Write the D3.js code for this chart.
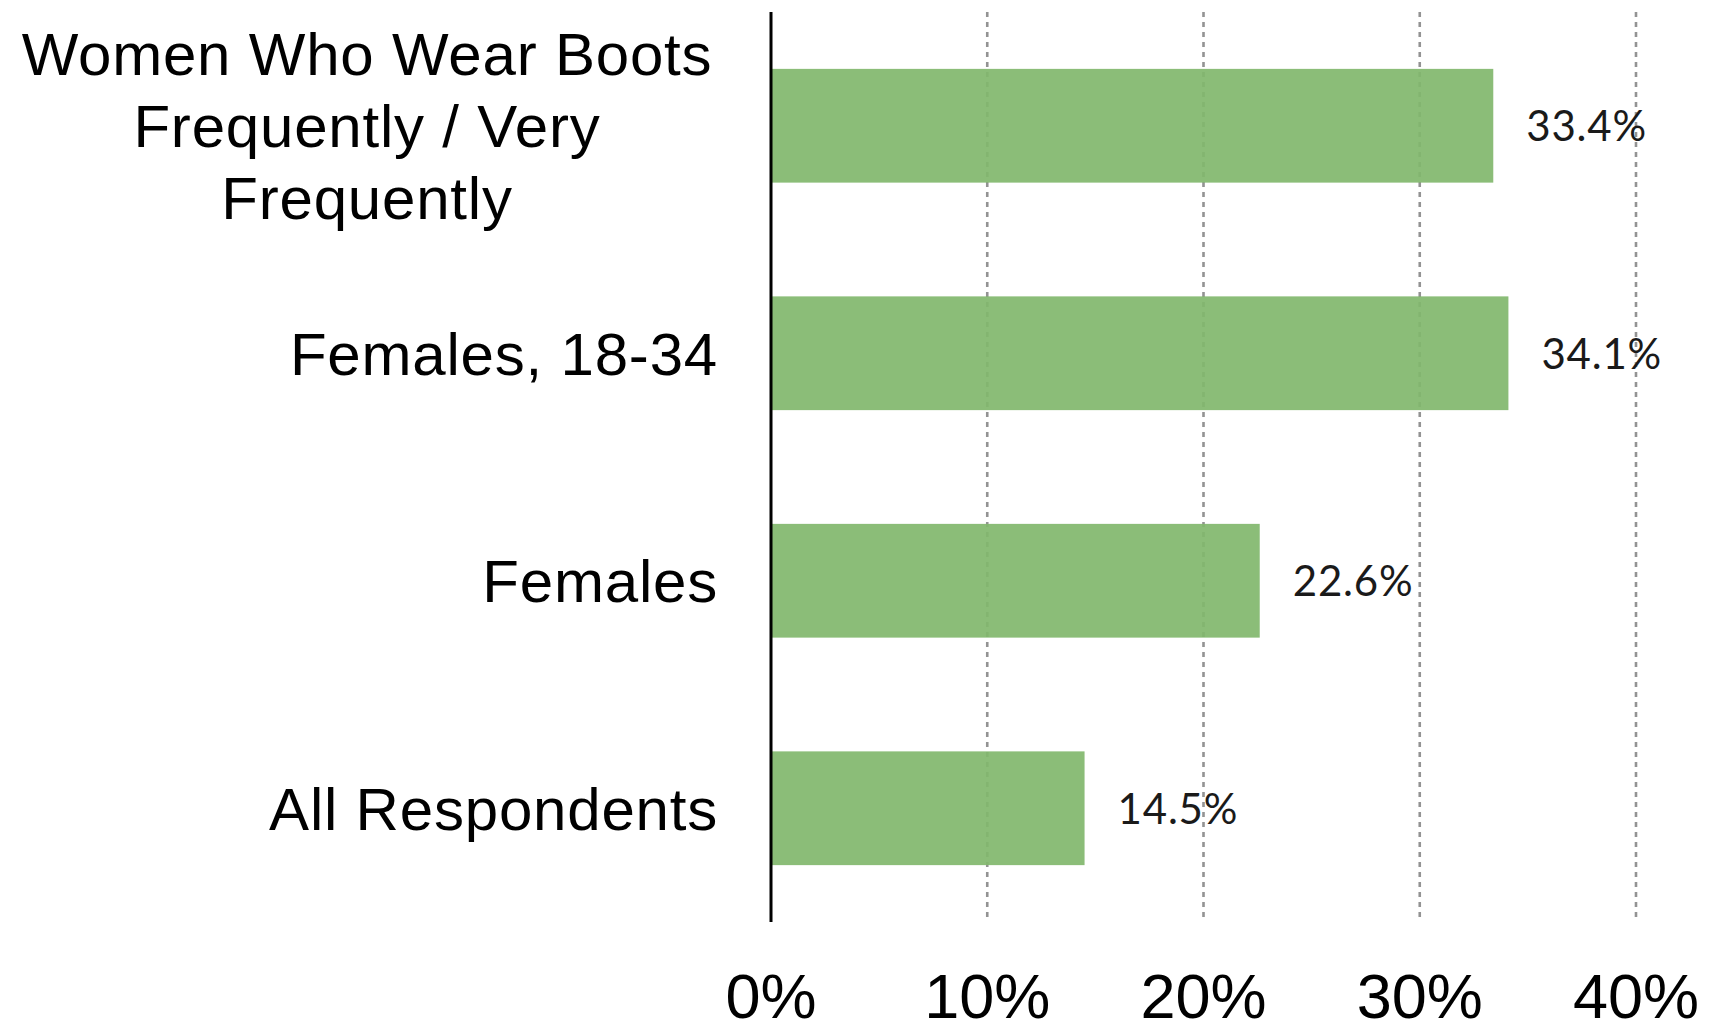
<!DOCTYPE html>
<html>
<head>
<meta charset="utf-8">
<script src="https://cdn.jsdelivr.net/npm/d3@7"></script>
<style>
  html, body { margin: 0; padding: 0; background: #ffffff; }
  svg { display: block; }
</style>
</head>
<body>
<svg id="chart" width="1718" height="1032"></svg>
<script>
// ---- data ----
const categories = [
  ["Women Who Wear Boots", "Frequently / Very", "Frequently"],
  ["Females, 18-34"],
  ["Females"],
  ["All Respondents"]
];
const values = [33.4, 34.1, 22.6, 14.5];
const tickValues = [0, 10, 20, 30, 40];
const tickLabels = ["0%", "10%", "20%", "30%", "40%"];

// ---- layout ----
const svg = d3.select("#chart");
const x0 = 771, x1 = 1636, yTop = 12, yBot = 922;

const x = d3.scaleLinear().domain([0, 40]).range([x0, x1]);
const y = d3.scaleBand().domain(d3.range(categories.length)).range([yTop, yBot])
  .paddingInner(0.5).paddingOuter(0.25);

// gridlines
svg.append("g").selectAll("line").data(tickValues.filter(d => d > 0)).join("line")
  .attr("x1", d => x(d)).attr("x2", d => x(d))
  .attr("y1", yTop).attr("y2", yBot)
  .attr("stroke", "#939393").attr("stroke-width", 2.6)
  .attr("stroke-dasharray", "5,5");

// bars
svg.append("g").selectAll("rect").data(values).join("rect")
  .attr("x", x(0)).attr("y", (d, i) => y(i))
  .attr("width", d => x(d) - x(0)).attr("height", y.bandwidth())
  .attr("fill", "#81b76d").attr("fill-opacity", 0.92);

// value labels
svg.append("g").selectAll("text").data(values).join("text")
  .attr("x", d => x(d) + 33)
  .attr("y", (d, i) => y(i) + y.bandwidth() / 2 + 15.5)
  .attr("font-family", "Lato, 'Open Sans', sans-serif")
  .attr("font-size", 42)
  .attr("letter-spacing", 0.8)
  .attr("fill", "#1a1a1a")
  .text(d => d.toFixed(1) + "%");

// y axis line
svg.append("line")
  .attr("x1", x0).attr("x2", x0).attr("y1", yTop).attr("y2", yBot)
  .attr("stroke", "#000").attr("stroke-width", 3);

// category labels
const lineH = 72;
const catG = svg.append("g")
  .attr("font-family", "'Liberation Sans', Arial, sans-serif")
  .attr("font-size", 60).attr("fill", "#000").attr("letter-spacing", 0.8);
categories.forEach((lines, i) => {
  const cy = y(i) + y.bandwidth() / 2;
  const multi = lines.length > 1;
  const t = catG.append("text")
    .attr("text-anchor", multi ? "middle" : "end");
  lines.forEach((ln, j) => {
    t.append("tspan")
      .attr("x", multi ? 367 : 718)
      .attr("y", cy + 21.5 + (j - (lines.length - 1) / 2) * lineH)
      .text(ln);
  });
});

// x tick labels
svg.append("g").selectAll("text").data(tickValues).join("text")
  .attr("x", d => x(d)).attr("y", 1018)
  .attr("text-anchor", "middle")
  .attr("font-family", "'Liberation Sans', Arial, sans-serif")
  .attr("font-size", 63).attr("fill", "#000")
  .text((d, i) => tickLabels[i]);
</script>
</body>
</html>
